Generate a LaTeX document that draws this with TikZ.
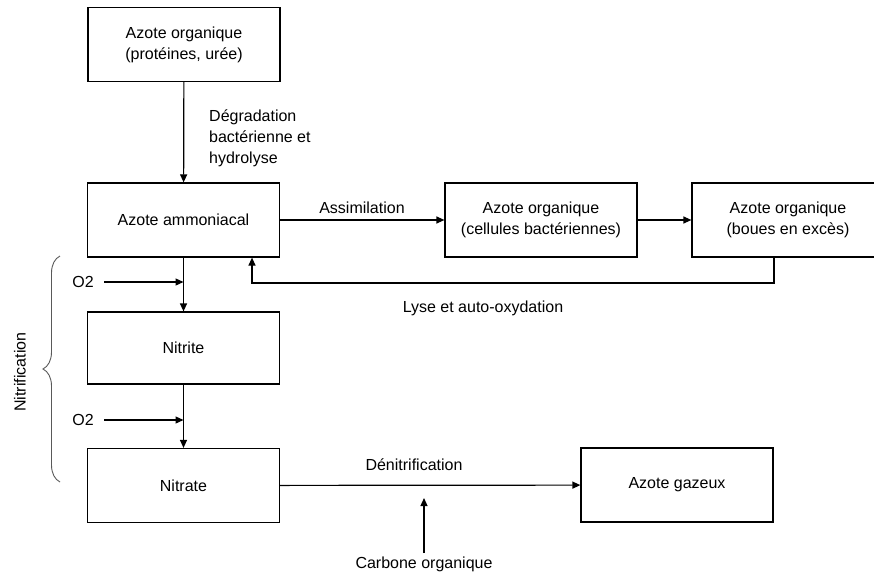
\documentclass[tikz,border=0pt]{standalone}
\usepackage{fontspec}
\setmainfont{Liberation Sans}
\usetikzlibrary{arrows.meta,decorations.pathreplacing}

\begin{document}
\begin{tikzpicture}[x=1pt, y=-1pt,
   every node/.style={font=\fontsize{16}{21}\selectfont, align=center},
   box/.style={draw, line width=1.2pt, minimum width=192pt, minimum height=74pt, inner sep=0pt},
   flow/.style={line width=1.2pt, -{Triangle[length=8pt,width=7pt]}},
   accolade/.style={decorate, decoration={brace, amplitude=17pt}, line width=0.9pt, gray!70!black}]

\useasboundingbox (0,0) rectangle (874,575);
\clip (0,0) rectangle (874,575);

% boites
\node[box] (orga) at (184,44.5) {Azote organique\\(protéines, urée)};
\node[box] (ammo) at (183.5,220) {Azote ammoniacal};
\node[box] (cell) at (541,220) {Azote organique\\(cellules bactériennes)};
\node[box] (boue) at (788,220) {Azote organique\\(boues en excès)};
\node[box, minimum height=72pt] (nitrite) at (183.5,348) {Nitrite};
\node[box] (nitrate) at (183.5,485.5) {Nitrate};
\node[box] (gaz) at (677,485) {Azote gazeux};

% textes
\node[anchor=north west, align=left, inner sep=0pt] (degr) at (209,110) {Dégradation\\bactérienne et\\hydrolyse};
\node (assim) at (362,208) {Assimilation};
\node (lyse) at (483,308) {Lyse et auto-oxydation};
\node (denit) at (414,465) {Dénitrification};
\node (carb) at (424,564) {Carbone organique};
\node (oxa) at (83,282) {O2};
\node (oxb) at (83,420) {O2};
\node[rotate=90] (nitrif) at (20,372) {Nitrification};

\coordinate (retour) at (252,283);
\coordinate (carbtip) at (424,498);

% fleches
\draw[flow] (orga) -- (ammo);
\draw[flow] (ammo) -- (cell);
\draw[flow] (cell) -- (boue);
\draw[flow] ([xshift=-14pt]boue.south) |- (retour) -- (retour |- ammo.south);
\draw[flow] (ammo) -- (nitrite);
\draw[flow] (nitrite) -- (nitrate);
\draw[flow] ([xshift=7pt]oxa.east) -- (oxa.east -| ammo.south);
\draw[flow] ([xshift=7pt]oxb.east) -- (oxb.east -| nitrite.south);
\draw[flow] (nitrate) -- (gaz);
\draw[flow] (carb) -- (carbtip);

\draw[accolade] (60,482) -- (60,256);

\end{tikzpicture}
\end{document}
